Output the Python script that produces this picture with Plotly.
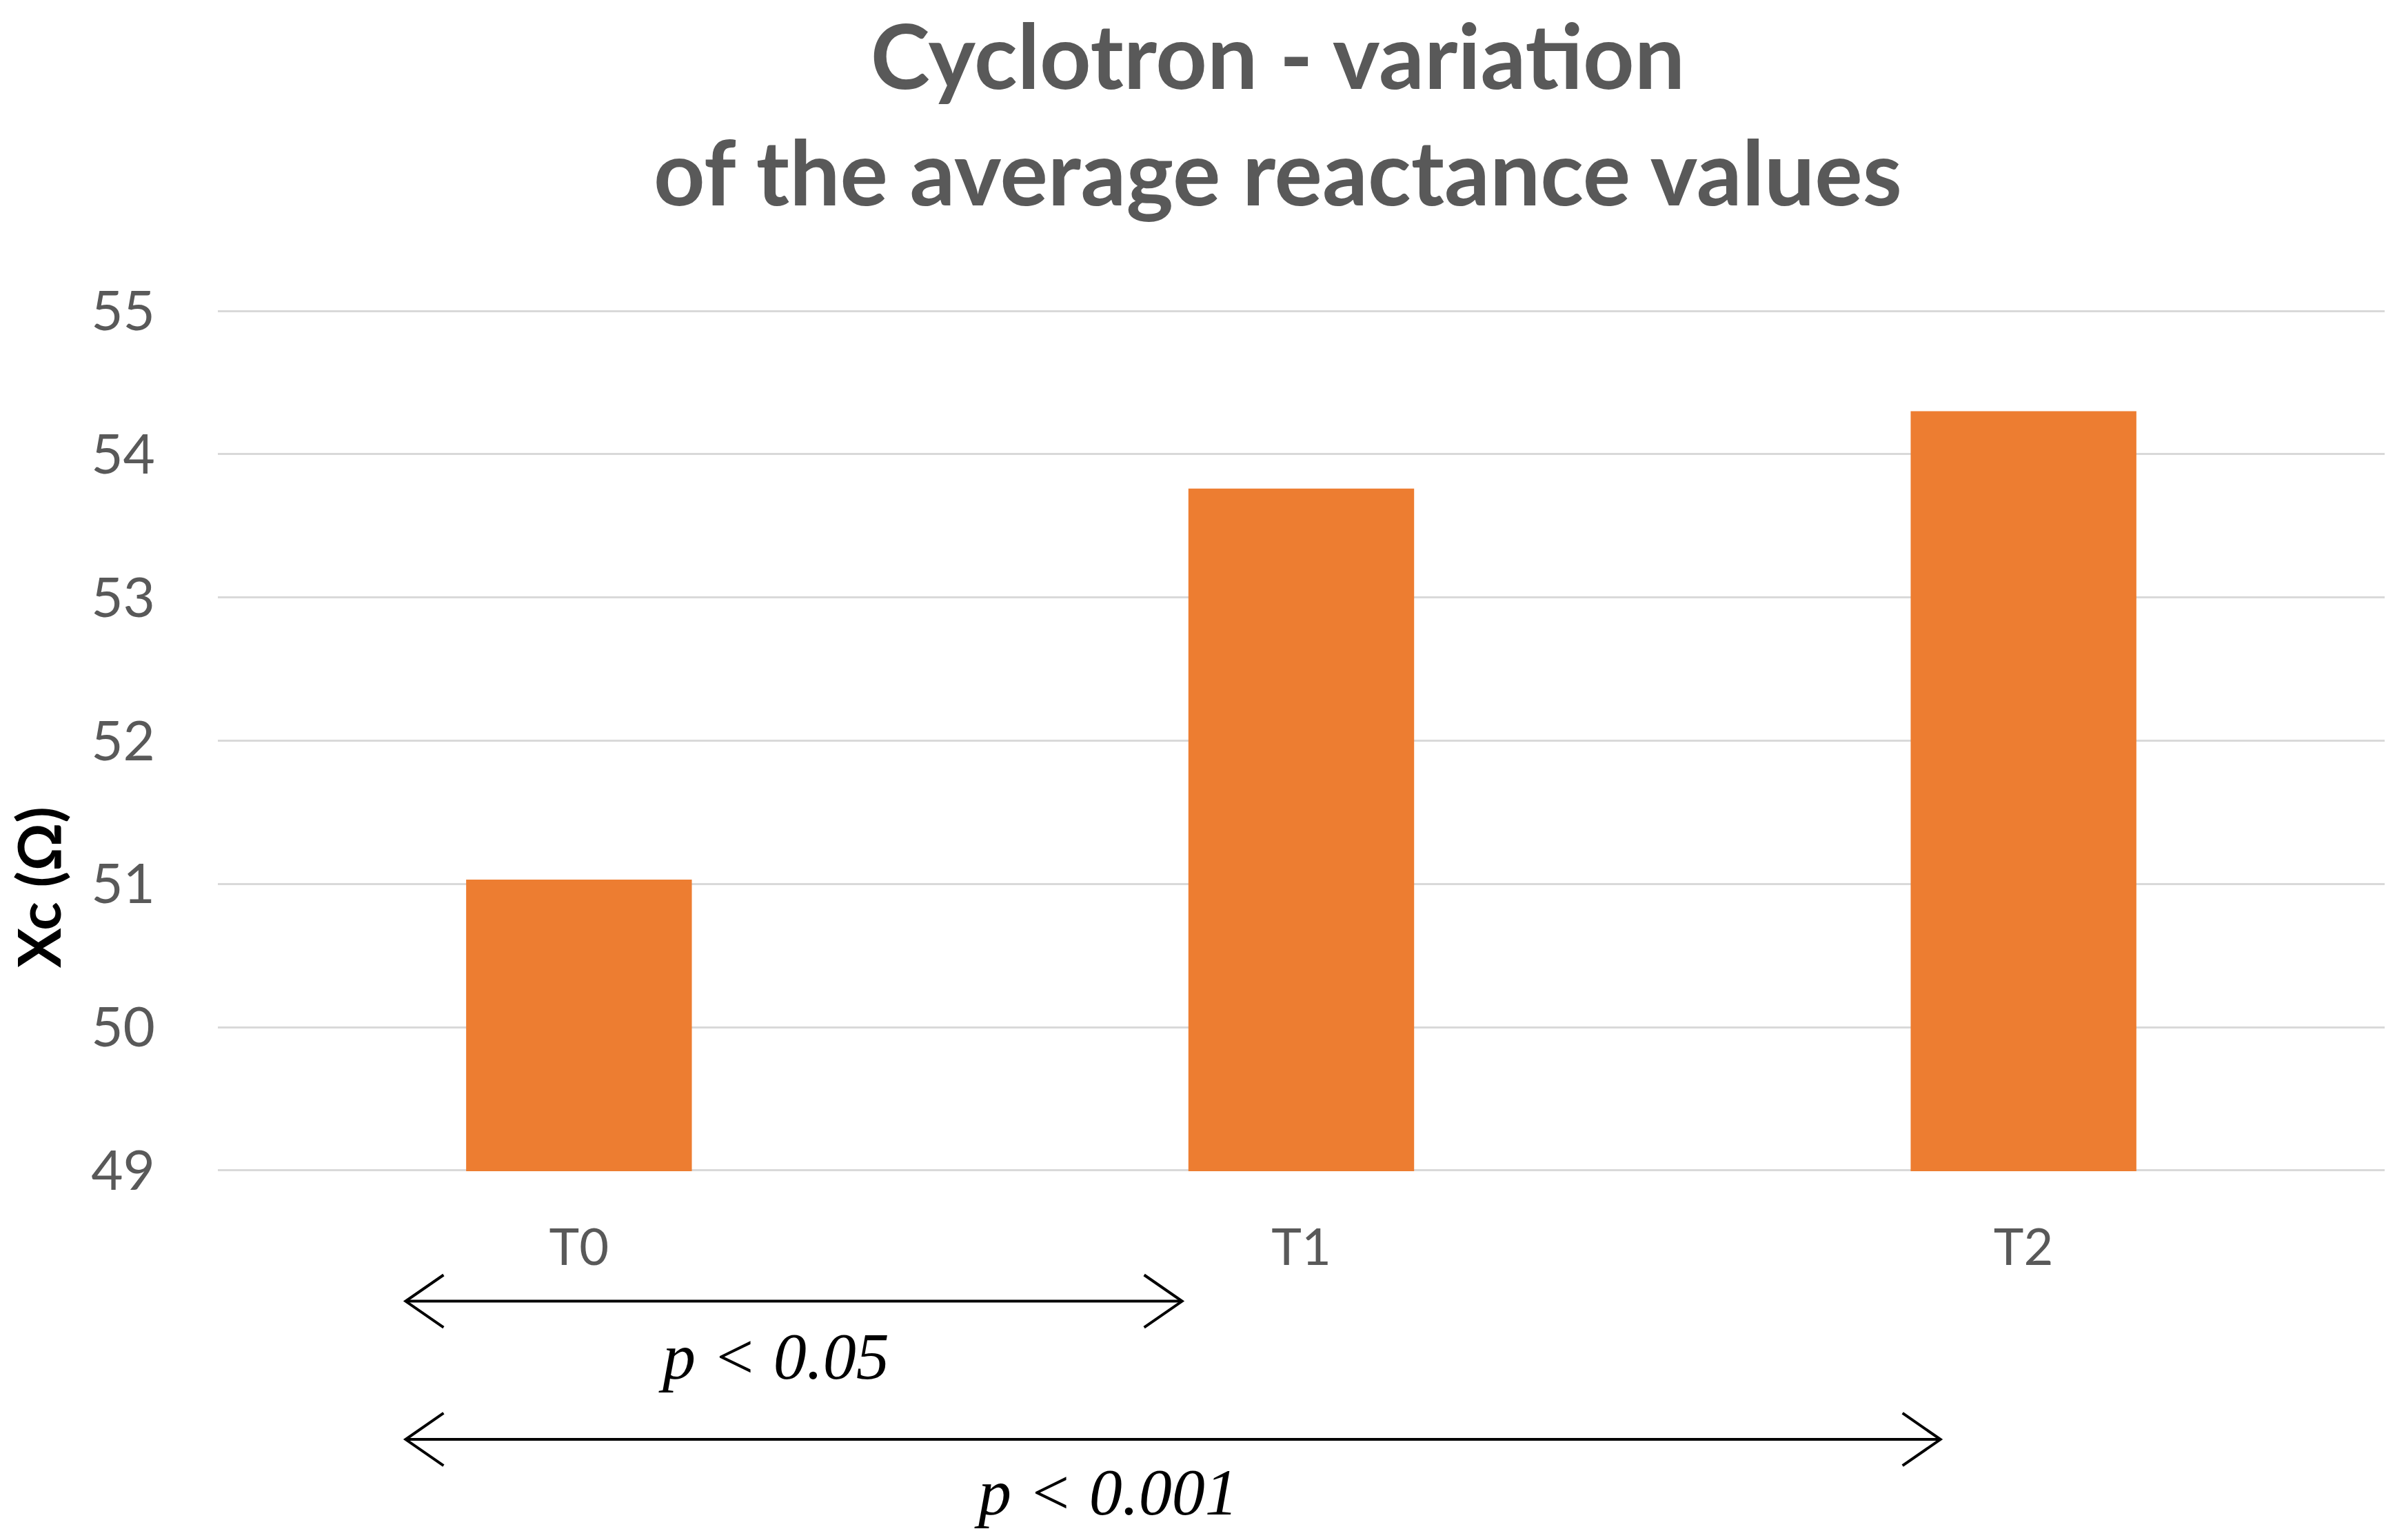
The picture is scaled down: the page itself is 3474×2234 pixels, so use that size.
import plotly.graph_objects as go

# ---- data ----
categories = ["T0", "T1", "T2"]
reactance = [51.03, 53.76, 54.30]
y_ticks = [49, 50, 51, 52, 53, 54, 55]

# significance comparisons (x extents in category units)
comp_start = [-0.24, -0.24]
comp_end = [0.835, 1.885]
comp_label = ["p < 0.05", "p < 0.001"]
comp_label_x = [0.27, 0.73]
comp_line_y = [-0.151, -0.3115]      # paper units
comp_label_y = [-0.215, -0.373]      # paper units

W, H = 3474, 2234
ML, MR, MT, MB = 316, 15, 450, 535
GRAY = "#595959"

fig = go.Figure()
fig.add_trace(go.Bar(x=[0, 1, 2], y=reactance, marker=dict(color="#ED7D31", line=dict(width=0)),
                     showlegend=False))

# arrows as shapes
head_dx = 0.0525
head_dy = 0.0305
for x0, x1, yy in zip(comp_start, comp_end, comp_line_y):
    line = dict(color="black", width=4)
    fig.add_shape(type="line", xref="x", yref="paper", x0=x0, x1=x1, y0=yy, y1=yy, line=line)
    for tip, sgn in ((x0, 1), (x1, -1)):
        fig.add_shape(type="path", xref="x", yref="paper",
                      path=f"M {tip + sgn*head_dx},{yy + head_dy} L {tip},{yy} L {tip + sgn*head_dx},{yy - head_dy}",
                      line=dict(color="black", width=4))

for txt, lx, ly in zip(comp_label, comp_label_x, comp_label_y):
    fig.add_annotation(x=lx, y=ly, xref="x", yref="paper", showarrow=False,
                       text=f"<i>{txt}</i>",
                       font=dict(family="Liberation Serif", size=96, color="black"),
                       xanchor="center", yanchor="middle")

# title
fig.add_annotation(x=(1853 - ML) / (W - ML - MR), y=(H - MB - 163) / (H - MT - MB), xref="paper", yref="paper",
                   showarrow=False, text="<b>Cyclotron - variation<br>of the average reactance values</b>",
                   font=dict(family="Lato", size=130, color=GRAY), xanchor="center", yanchor="middle")

# y axis title
fig.add_annotation(x=(54 - ML) / (W - ML - MR), y=(H - MB - 1287) / (H - MT - MB), xref="paper", yref="paper",
                   showarrow=False, text="<b>Xc (Ω)</b>", textangle=-90,
                   font=dict(family="Lato", size=86, color="black"), xanchor="center", yanchor="middle")

fig.update_layout(
    width=W, height=H,
    margin=dict(l=ML, r=MR, t=MT, b=MB, pad=0),
    plot_bgcolor="white", paper_bgcolor="white",
    bargap=0.6875,
    font=dict(family="Lato", color=GRAY),
)
fig.update_xaxes(range=[-0.5, 2.5], tickmode="array", tickvals=[0, 1, 2], ticktext=categories,
                 showgrid=False, showline=False, zeroline=False,
                 ticks="outside", ticklen=46, tickcolor="rgba(0,0,0,0)",
                 tickfont=dict(family="Lato", size=74, color=GRAY))
fig.update_yaxes(range=[48.995, 55.005], tickmode="array", tickvals=y_ticks,
                 showgrid=True, gridcolor="#D9D9D9", gridwidth=3, zeroline=False, showline=False,
                 ticks="outside", ticklen=74, tickcolor="rgba(0,0,0,0)",
                 tickfont=dict(family="Lato", size=80, color=GRAY))

fig.write_html("out.html", config={"displayModeBar": False},
               post_script="document.body.style.margin='0';")
